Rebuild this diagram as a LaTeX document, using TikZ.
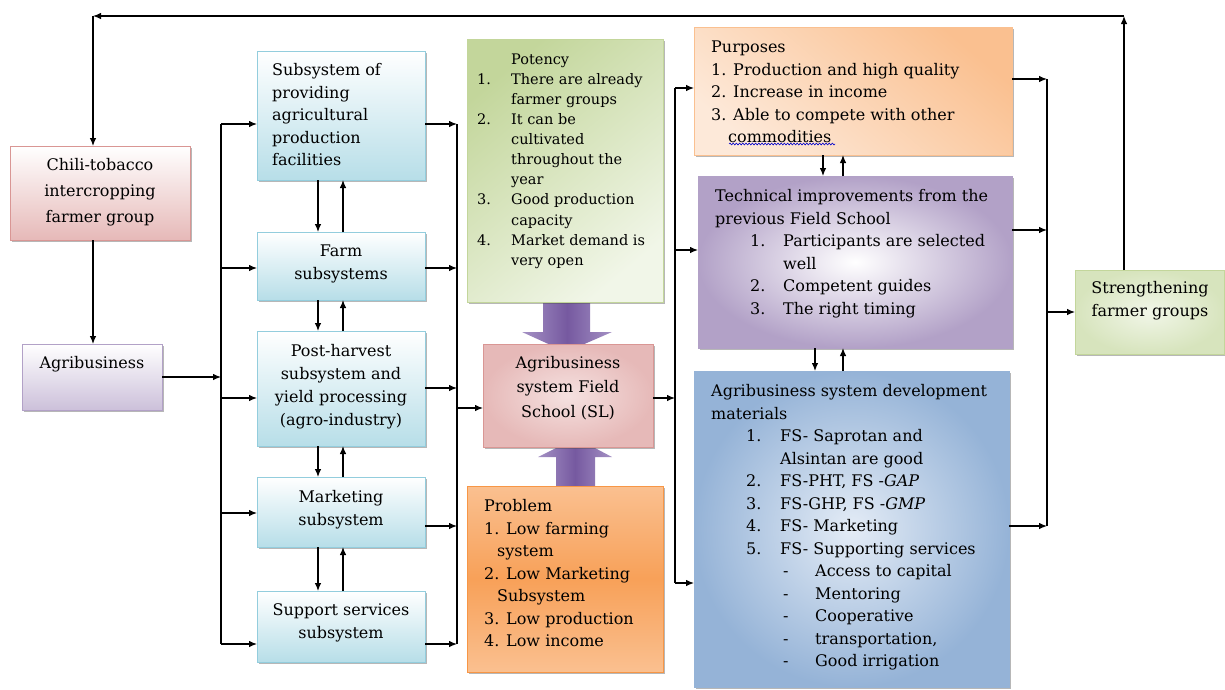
\documentclass[tikz,border=0pt]{standalone}
\usepackage{fontspec}
\setmainfont{DejaVu Serif}
\usetikzlibrary{arrows.meta,shadows,decorations.pathmorphing}
\definecolor{blueB}{HTML}{93CDDD}
\definecolor{blueF}{HTML}{B7DEE8}
\definecolor{redB}{HTML}{D99694}
\definecolor{redF}{HTML}{E6B9B8}
\definecolor{redL}{HTML}{F5E1E0}
\definecolor{purB}{HTML}{B2A1C7}
\definecolor{purF}{HTML}{CCC0DA}
\definecolor{grnB}{HTML}{C3D69B}
\definecolor{grnF}{HTML}{D7E4BD}
\definecolor{grnL}{HTML}{F1F6E8}
\definecolor{orB}{HTML}{F79646}
\definecolor{orF}{HTML}{FAC090}
\definecolor{orL}{HTML}{FDE9D9}
\definecolor{dblB}{HTML}{95B3D7}
\definecolor{dblL}{HTML}{E4ECF6}
\definecolor{fatM}{HTML}{7659A0}
\definecolor{fatE}{HTML}{A491C4}
\begin{document}
\begin{tikzpicture}[x=1pt,y=-1pt,
  box/.style={draw, line width=0.9pt, inner sep=0pt, outer sep=0pt, anchor=north west,
    drop shadow={shadow xshift=2pt, shadow yshift=-2pt, opacity=0.4, fill=black!70}},
  bluebox/.style={box, draw=blueB, top color=white, bottom color=blueF},
  chilibox/.style={box, draw=redB, top color=white, bottom color=redF},
  agribox/.style={box, draw=purB, top color=white, bottom color=purF},
  potbox/.style={box, draw=grnB, top color=grnB, bottom color=grnL, shading angle=40},
  fsbox/.style={box, draw=redB, inner color=redL, outer color=redF},
  probbox/.style={box, draw=orB, top color=orF, bottom color=orF, middle color=orB!90},
  purpbox/.style={box, draw=orF, top color=orF, bottom color=orL, shading angle=-40},
  techbox/.style={box, draw=purB, inner color=white, outer color=purB},
  devbox/.style={box, draw=dblB, inner color=dblL, outer color=dblB},
  strbox/.style={box, draw=grnB, inner color=grnL, outer color=grnF},
  fatarrow/.style={left color=fatE, right color=fatE, middle color=fatM},
  txt/.style={inner sep=0pt, anchor=north west, align=left, font=\fontsize{16}{22.5}\selectfont},
  ctxt/.style={inner sep=0pt, align=center, font=\fontsize{16}{23}\selectfont},
  arr/.style={-{Latex[length=8pt,width=6.5pt]}, line width=1.1pt},
  ln/.style={line width=1.1pt}]
\useasboundingbox (0,0) rectangle (1225,689);

% fat arrows (drawn first, tips hidden under the Field School box)
\shade[fatarrow]
  (543,302) -- (590,302) -- (590,332) -- (612,332) -- (566,352) -- (522,332) -- (543,332) -- cycle;
\shade[fatarrow]
  (556,486) -- (595,486) -- (595,457) -- (612,457) -- (576,438) -- (538,457) -- (556,457) -- cycle;

% boxes
\node[chilibox, minimum width=180pt, minimum height=94pt] (chili) at (10,146) {};
\node[agribox, minimum width=140pt, minimum height=66pt] (agri) at (22,344) {};
\node[bluebox, minimum width=168pt, minimum height=129pt] (sub) at (257,51) {};
\node[bluebox, minimum width=168pt, minimum height=68pt] (farm) at (257,232) {};
\node[bluebox, minimum width=168pt, minimum height=115pt] (post) at (257,331) {};
\node[bluebox, minimum width=168pt, minimum height=70pt] (mkt) at (257,477) {};
\node[bluebox, minimum width=168pt, minimum height=71pt] (sup) at (257,591) {};
\node[potbox, minimum width=196pt, minimum height=263pt] (pot) at (467,39) {};
\node[fsbox, minimum width=170pt, minimum height=103pt] (fs) at (483,344) {};
\node[probbox, minimum width=196pt, minimum height=186pt] (prob) at (467,486) {};
\node[purpbox, minimum width=318pt, minimum height=128pt] (purp) at (694,27) {};
\node[techbox, minimum width=314pt, minimum height=172pt] (tech) at (698,176) {};
\node[devbox, minimum width=315pt, minimum height=316pt] (dev) at (694,371) {};
\node[strbox, minimum width=149pt, minimum height=84pt] (str) at (1075,270) {};

% texts
\node[ctxt, font=\fontsize{16}{26}\selectfont] (chili-t) at (100,192) {Chili-tobacco\\intercropping\\farmer group};
\node[ctxt] (agri-t) at (92,364) {Agribusiness};
\node[txt] (sub-t) at (272,60) {\strut Subsystem of\\providing\\agricultural\\production\\facilities};
\node[ctxt] (farm-t) at (341,264) {Farm\\subsystems};
\node[ctxt] (post-t) at (341,387) {Post-harvest\\subsystem and\\yield processing\\(agro-industry)};
\node[ctxt] (mkt-t) at (341,510) {Marketing\\subsystem};
\node[ctxt] (sup-t) at (341,623) {Support services\\subsystem};
\node[txt, font=\fontsize{14.5}{20.1}\selectfont] (pot-t) at (477,50) {\strut\hspace*{34pt}Potency\\
  \makebox[34pt][l]{1.}There are already\\
  \hspace*{34pt}farmer groups\\
  \makebox[34pt][l]{2.}It can be\\
  \hspace*{34pt}cultivated\\
  \hspace*{34pt}throughout the\\
  \hspace*{34pt}year\\
  \makebox[34pt][l]{3.}Good production\\
  \hspace*{34pt}capacity\\
  \makebox[34pt][l]{4.}Market demand is\\
  \hspace*{34pt}very open};
\node[ctxt, font=\fontsize{16}{24.5}\selectfont] (fs-t) at (568,388) {Agribusiness\\system Field\\School (SL)};
\node[txt] (prob-t) at (484,496) {\strut Problem\\
  1. Low farming\\
  \hspace*{13pt}system\\
  2. Low Marketing\\
  \hspace*{13pt}Subsystem\\
  3. Low production\\
  4. Low income};
\node[txt] (purp-t) at (711,37) {\strut Purposes\\
  1. Production and high quality\\
  2. Increase in income\\
  3. Able to compete with other\\
  \hspace*{17pt}commodities};
\draw[blue!80!black, line width=0.6pt, decorate, decoration={snake, amplitude=0.9pt, segment length=3.2pt}]
  (729,144) -- (835,144);
\node[txt] (tech-t) at (715,186) {\strut Technical improvements from the\\
  previous Field School\\
  \hspace*{35pt}\makebox[33pt][l]{1.}Participants are selected\\
  \hspace*{68pt}well\\
  \hspace*{35pt}\makebox[33pt][l]{2.}Competent guides\\
  \hspace*{35pt}\makebox[33pt][l]{3.}The right timing};
\node[txt] (dev-t) at (711,381) {\strut Agribusiness system development\\
  materials\\
  \hspace*{35pt}\makebox[34pt][l]{1.}FS- Saprotan and\\
  \hspace*{69pt}Alsintan are good\\
  \hspace*{35pt}\makebox[34pt][l]{2.}FS-PHT, FS -\textit{GAP}\\
  \hspace*{35pt}\makebox[34pt][l]{3.}FS-GHP, FS -\textit{GMP}\\
  \hspace*{35pt}\makebox[34pt][l]{4.}FS- Marketing\\
  \hspace*{35pt}\makebox[34pt][l]{5.}FS- Supporting services\\
  \hspace*{72pt}\makebox[32pt][l]{-}Access to capital\\
  \hspace*{72pt}\makebox[32pt][l]{-}Mentoring\\
  \hspace*{72pt}\makebox[32pt][l]{-}Cooperative\\
  \hspace*{72pt}\makebox[32pt][l]{-}transportation,\\
  \hspace*{72pt}\makebox[32pt][l]{-}Good irrigation};
\node[ctxt] (str-t) at (1150,301) {Strengthening\\farmer groups};

% coordinates
\coordinate (cx) at (93,0);
\coordinate (tr) at (1124,16);
\coordinate (tl) at (93,16);
\coordinate (lb1) at (221,124);
\coordinate (lb5) at (221,644);
\coordinate (rb1) at (457,124);
\coordinate (rb5) at (457,644);
\coordinate (rbm) at (457,408);
\coordinate (mb1) at (675,88);
\coordinate (mb2) at (675,250);
\coordinate (mbf) at (675,398);
\coordinate (mb3) at (675,583);
\coordinate (sb1) at (1047,79);
\coordinate (sb2) at (1047,230);
\coordinate (sbs) at (1047,312);
\coordinate (sb3) at (1047,526);

% connectors: left part
\draw[arr] (chili.south -| cx) -- (agri.north -| cx);
\draw[arr] (str.north -| tr) -- (tr);
\draw[arr] (tr) -- (tl);
\draw[arr] (tl) -- (chili.north -| tl);
\draw[arr] (agri.east) -- (agri.east -| lb1);
\draw[ln] (lb1) -- (lb5);
\draw[arr] (lb1) -- (sub.west |- lb1);
\draw[arr] (lb1 |- 0,268) -- (farm.west |- 0,268);
\draw[arr] (lb1 |- 0,398) -- (post.west |- 0,398);
\draw[arr] (lb1 |- 0,513) -- (mkt.west |- 0,513);
\draw[arr] (lb5) -- (sup.west |- lb5);

% between subsystems
\draw[arr] (sub.south -| 318,0) -- (farm.north -| 318,0);
\draw[arr] (farm.north -| 343,0) -- (sub.south -| 343,0);
\draw[arr] (farm.south -| 318,0) -- (post.north -| 318,0);
\draw[arr] (post.north -| 343,0) -- (farm.south -| 343,0);
\draw[arr] (post.south -| 318,0) -- (mkt.north -| 318,0);
\draw[arr] (mkt.north -| 343,0) -- (post.south -| 343,0);
\draw[arr] (mkt.south -| 318,0) -- (sup.north -| 318,0);
\draw[arr] (sup.north -| 343,0) -- (mkt.south -| 343,0);

% right of subsystems
\draw[arr] (sub.east |- rb1) -- (rb1);
\draw[arr] (farm.east |- 0,268) -- (rb1 |- 0,268);
\draw[arr] (post.east |- 0,388) -- (rb1 |- 0,388);
\draw[arr] (mkt.east |- 0,526) -- (rb1 |- 0,526);
\draw[arr] (sup.east |- rb5) -- (rb5);
\draw[ln] (rb1) -- (rb5);
\draw[arr] (rbm) -- (fs.west |- rbm);

% field school to right column
\draw[arr] (fs.east |- mbf) -- (mbf);
\draw[ln] (mb1) -- (mb3);
\draw[arr] (mb1) -- (purp.west |- mb1);
\draw[arr] (mb2) -- (tech.west |- mb2);
\draw[arr] (mb3) -- (dev.west |- mb3);

% between right boxes
\draw[arr] (purp.south -| 823,0) -- (tech.north -| 823,0);
\draw[arr] (tech.north -| 843,0) -- (purp.south -| 843,0);
\draw[arr] (tech.south -| 815,0) -- (dev.north -| 815,0);
\draw[arr] (dev.north -| 843,0) -- (tech.south -| 843,0);

% to strengthening
\draw[arr] (purp.east |- sb1) -- (sb1);
\draw[arr] (tech.east |- sb2) -- (sb2);
\draw[arr] (dev.east |- sb3) -- (sb3);
\draw[ln] (sb1) -- (sb3);
\draw[arr] (sbs) -- (str.west |- sbs);
\end{tikzpicture}
\end{document}
